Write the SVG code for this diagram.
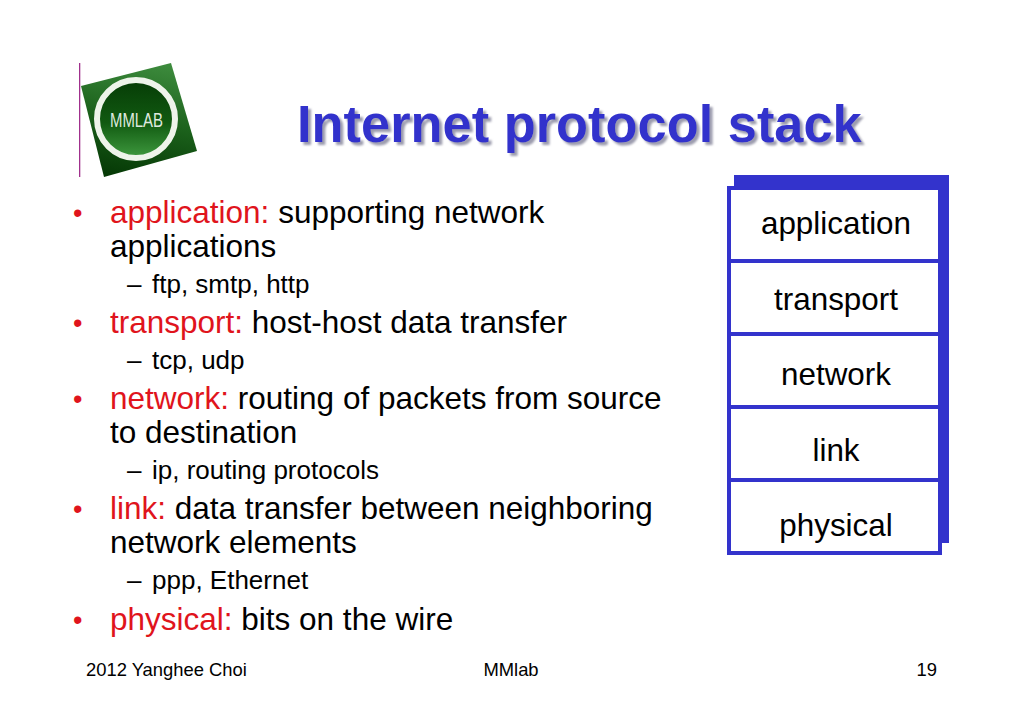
<svg xmlns="http://www.w3.org/2000/svg" width="1023" height="708" viewBox="0 0 1023 708">
<style>
text{font-family:"Liberation Sans",Arial,sans-serif;fill:#000}
.l1{font-size:31.5px}
.l2{font-size:26px}
.r{fill:#e0141c}
.b{fill:#e0141c;font-size:27px}
.f{font-size:18.4px}
.st{font-size:31.4px;text-anchor:middle}
.cell{fill:#fff;stroke:#3333cc;stroke-width:4}
.title{font-size:52.4px;font-weight:bold;fill:#3333cc;filter:url(#ts)}
</style>
<defs>
<linearGradient id="sq" x1="0.6" y1="0" x2="0.4" y2="1"><stop offset="0" stop-color="#3c8a3c"/><stop offset="0.5" stop-color="#1c621c"/><stop offset="1" stop-color="#063a06"/></linearGradient>
<linearGradient id="ci" x1="0" y1="0" x2="0" y2="1"><stop offset="0" stop-color="#063c06"/><stop offset="0.55" stop-color="#115a11"/><stop offset="1" stop-color="#3f9a3f"/></linearGradient>
<filter id="ts" x="-5%" y="-10%" width="110%" height="130%"><feDropShadow dx="3" dy="3" stdDeviation="0.8" flood-color="#9c9cae"/></filter>
</defs>
<rect width="1023" height="708" fill="#fff"/>
<g id="logo">
<rect x="79" y="63" width="1.300" height="114" fill="#a0308c"/>
<polygon points="81,86 171,63 197,151 104,177" fill="url(#sq)"/>
<circle cx="136" cy="119" r="39" fill="url(#ci)" stroke="#eef4ea" stroke-width="6"/>
<text x="110" y="127" font-size="21" textLength="53" lengthAdjust="spacingAndGlyphs" style="fill:#dfe9df;font-family:'Liberation Sans',sans-serif">MMLAB</text>
</g>
<g id="title">
<text x="297" y="142" class="title">Internet protocol stack</text>
</g>
<g id="bullets">
<text x="73" y="222" class="b">•</text>
<text x="110" y="223" class="l1"><tspan class="r">application:</tspan> supporting network</text>
<text x="110" y="257" class="l1">applications</text>
<text x="127" y="293" class="l2">–</text>
<text x="152" y="293" class="l2">ftp, smtp, http</text>
<text x="73" y="332" class="b">•</text>
<text x="110" y="333" class="l1"><tspan class="r">transport:</tspan> host-host data transfer</text>
<text x="127" y="369" class="l2">–</text>
<text x="152" y="369" class="l2">tcp, udp</text>
<text x="73" y="408" class="b">•</text>
<text x="110" y="409" class="l1"><tspan class="r">network:</tspan> routing of packets from source</text>
<text x="110" y="443" class="l1">to destination</text>
<text x="127" y="479" class="l2">–</text>
<text x="152" y="479" class="l2">ip, routing protocols</text>
<text x="73" y="518" class="b">•</text>
<text x="110" y="519" class="l1"><tspan class="r">link:</tspan> data transfer between neighboring</text>
<text x="110" y="553" class="l1">network elements</text>
<text x="127" y="589" class="l2">–</text>
<text x="152" y="589" class="l2">ppp, Ethernet</text>
<text x="73" y="629" class="b">•</text>
<text x="110" y="630" class="l1"><tspan class="r">physical:</tspan> bits on the wire</text>
</g>
<g id="stack">
<rect x="734" y="175" width="215" height="368" fill="#3333cc"/>
<g id="layer-application"><rect x="729" y="188" width="211" height="73" class="cell"/><text x="836" y="234" class="st">application</text></g>
<g id="layer-transport"><rect x="729" y="261" width="211" height="73" class="cell"/><text x="836" y="310" class="st">transport</text></g>
<g id="layer-network"><rect x="729" y="334" width="211" height="73" class="cell"/><text x="836" y="385" class="st">network</text></g>
<g id="layer-link"><rect x="729" y="407" width="211" height="73" class="cell"/><text x="836" y="461" class="st">link</text></g>
<g id="layer-physical"><rect x="729" y="480" width="211" height="73" class="cell"/><text x="836" y="536" class="st">physical</text></g>
</g>
<g id="footer">
<text x="86" y="676" class="f">2012 Yanghee Choi</text>
<text x="511" y="676" class="f" text-anchor="middle">MMlab</text>
<text x="937" y="676" class="f" text-anchor="end">19</text>
</g>
</svg>
